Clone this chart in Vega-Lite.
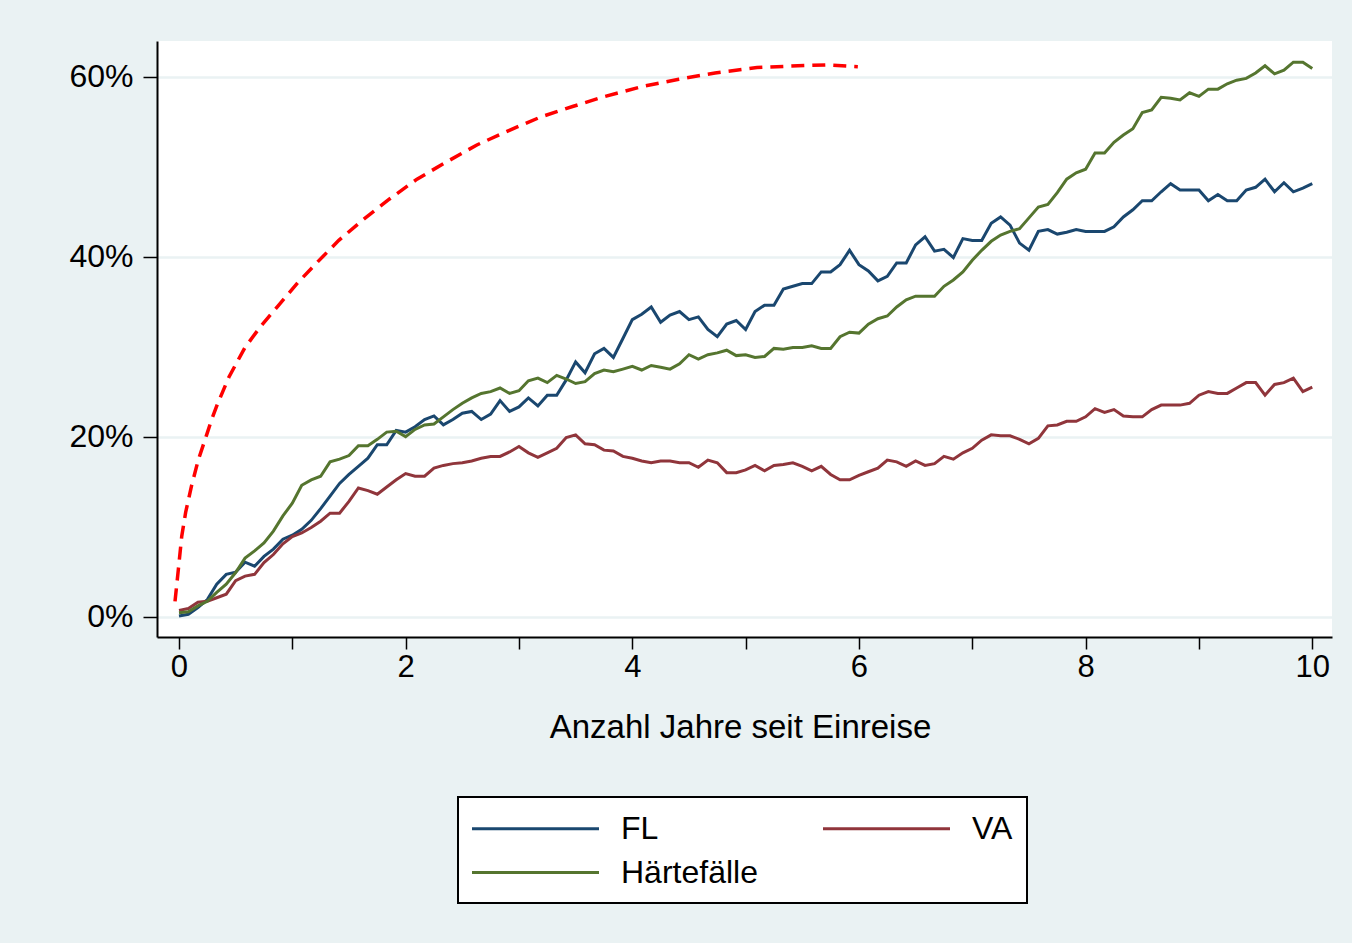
{
  "$schema": "https://vega.github.io/schema/vega-lite/v6.json",
  "width": 1175,
  "height": 596,
  "autosize": {"type": "none"},
  "padding": {"left": 157, "top": 41, "right": 20, "bottom": 306},
  "background": "#EAF2F3",
  "config": {"view": {"fill": "white", "stroke": null}, "font": "Liberation Sans"},
  "datasets": {
    "series": [
      {"t":0,"FL":0.07,"VA":0.7,"Härtefälle":0.44},
      {"t":0.083,"FL":0.26,"VA":0.9,"Härtefälle":0.55},
      {"t":0.167,"FL":1.0,"VA":1.6,"Härtefälle":1.2},
      {"t":0.25,"FL":1.9,"VA":1.7,"Härtefälle":1.7},
      {"t":0.333,"FL":3.6,"VA":2.1,"Härtefälle":2.7},
      {"t":0.417,"FL":4.7,"VA":2.5,"Härtefälle":3.6},
      {"t":0.5,"FL":4.95,"VA":4.0,"Härtefälle":4.9},
      {"t":0.583,"FL":6.05,"VA":4.5,"Härtefälle":6.5},
      {"t":0.667,"FL":5.6,"VA":4.7,"Härtefälle":7.3},
      {"t":0.75,"FL":6.7,"VA":6.0,"Härtefälle":8.2},
      {"t":0.833,"FL":7.5,"VA":6.9,"Härtefälle":9.5},
      {"t":0.917,"FL":8.6,"VA":8.1,"Härtefälle":11.2},
      {"t":1,"FL":9.05,"VA":8.9,"Härtefälle":12.6},
      {"t":1.083,"FL":9.7,"VA":9.3,"Härtefälle":14.6},
      {"t":1.167,"FL":10.7,"VA":9.9,"Härtefälle":15.2},
      {"t":1.25,"FL":12.0,"VA":10.6,"Härtefälle":15.6},
      {"t":1.333,"FL":13.4,"VA":11.5,"Härtefälle":17.2},
      {"t":1.417,"FL":14.8,"VA":11.5,"Härtefälle":17.5},
      {"t":1.5,"FL":15.8,"VA":12.8,"Härtefälle":17.9},
      {"t":1.583,"FL":16.7,"VA":14.3,"Härtefälle":19.0},
      {"t":1.667,"FL":17.6,"VA":14.0,"Härtefälle":19.0},
      {"t":1.75,"FL":19.1,"VA":13.6,"Härtefälle":19.7},
      {"t":1.833,"FL":19.1,"VA":14.4,"Härtefälle":20.5},
      {"t":1.917,"FL":20.7,"VA":15.2,"Härtefälle":20.6},
      {"t":2,"FL":20.5,"VA":15.9,"Härtefälle":20.0},
      {"t":2.083,"FL":21.1,"VA":15.6,"Härtefälle":20.8},
      {"t":2.167,"FL":21.9,"VA":15.6,"Härtefälle":21.3},
      {"t":2.25,"FL":22.3,"VA":16.5,"Härtefälle":21.4},
      {"t":2.333,"FL":21.3,"VA":16.8,"Härtefälle":22.2},
      {"t":2.417,"FL":21.9,"VA":17.0,"Härtefälle":23.0},
      {"t":2.5,"FL":22.6,"VA":17.1,"Härtefälle":23.7},
      {"t":2.583,"FL":22.8,"VA":17.3,"Härtefälle":24.3},
      {"t":2.667,"FL":21.9,"VA":17.6,"Härtefälle":24.8},
      {"t":2.75,"FL":22.5,"VA":17.8,"Härtefälle":25.0},
      {"t":2.833,"FL":24.0,"VA":17.8,"Härtefälle":25.4},
      {"t":2.917,"FL":22.8,"VA":18.3,"Härtefälle":24.8},
      {"t":3,"FL":23.3,"VA":18.9,"Härtefälle":25.1},
      {"t":3.083,"FL":24.3,"VA":18.2,"Härtefälle":26.2},
      {"t":3.167,"FL":23.4,"VA":17.7,"Härtefälle":26.5},
      {"t":3.25,"FL":24.6,"VA":18.2,"Härtefälle":26.0},
      {"t":3.333,"FL":24.6,"VA":18.7,"Härtefälle":26.8},
      {"t":3.417,"FL":26.3,"VA":19.9,"Härtefälle":26.4},
      {"t":3.5,"FL":28.3,"VA":20.2,"Härtefälle":25.9},
      {"t":3.583,"FL":27.1,"VA":19.2,"Härtefälle":26.1},
      {"t":3.667,"FL":29.2,"VA":19.1,"Härtefälle":27.0},
      {"t":3.75,"FL":29.8,"VA":18.5,"Härtefälle":27.4},
      {"t":3.833,"FL":28.8,"VA":18.4,"Härtefälle":27.2},
      {"t":3.917,"FL":30.9,"VA":17.8,"Härtefälle":27.5},
      {"t":4,"FL":33.0,"VA":17.6,"Härtefälle":27.8},
      {"t":4.083,"FL":33.6,"VA":17.3,"Härtefälle":27.4},
      {"t":4.167,"FL":34.4,"VA":17.1,"Härtefälle":27.9},
      {"t":4.25,"FL":32.7,"VA":17.3,"Härtefälle":27.7},
      {"t":4.333,"FL":33.5,"VA":17.3,"Härtefälle":27.5},
      {"t":4.417,"FL":33.9,"VA":17.1,"Härtefälle":28.1},
      {"t":4.5,"FL":33.0,"VA":17.1,"Härtefälle":29.1},
      {"t":4.583,"FL":33.3,"VA":16.6,"Härtefälle":28.6},
      {"t":4.667,"FL":31.9,"VA":17.4,"Härtefälle":29.1},
      {"t":4.75,"FL":31.1,"VA":17.1,"Härtefälle":29.3},
      {"t":4.833,"FL":32.5,"VA":16.0,"Härtefälle":29.6},
      {"t":4.917,"FL":32.9,"VA":16.0,"Härtefälle":29.0},
      {"t":5,"FL":31.9,"VA":16.3,"Härtefälle":29.1},
      {"t":5.083,"FL":33.9,"VA":16.8,"Härtefälle":28.8},
      {"t":5.167,"FL":34.6,"VA":16.2,"Härtefälle":28.9},
      {"t":5.25,"FL":34.6,"VA":16.8,"Härtefälle":29.8},
      {"t":5.333,"FL":36.4,"VA":16.9,"Härtefälle":29.7},
      {"t":5.417,"FL":36.7,"VA":17.1,"Härtefälle":29.9},
      {"t":5.5,"FL":37.0,"VA":16.7,"Härtefälle":29.9},
      {"t":5.583,"FL":37.0,"VA":16.2,"Härtefälle":30.1},
      {"t":5.667,"FL":38.3,"VA":16.7,"Härtefälle":29.8},
      {"t":5.75,"FL":38.3,"VA":15.8,"Härtefälle":29.8},
      {"t":5.833,"FL":39.1,"VA":15.2,"Härtefälle":31.1},
      {"t":5.917,"FL":40.7,"VA":15.2,"Härtefälle":31.6},
      {"t":6,"FL":39.1,"VA":15.7,"Härtefälle":31.5},
      {"t":6.083,"FL":38.4,"VA":16.1,"Härtefälle":32.5},
      {"t":6.167,"FL":37.3,"VA":16.5,"Härtefälle":33.1},
      {"t":6.25,"FL":37.8,"VA":17.4,"Härtefälle":33.4},
      {"t":6.333,"FL":39.3,"VA":17.2,"Härtefälle":34.4},
      {"t":6.417,"FL":39.3,"VA":16.7,"Härtefälle":35.2},
      {"t":6.5,"FL":41.3,"VA":17.3,"Härtefälle":35.6},
      {"t":6.583,"FL":42.2,"VA":16.8,"Härtefälle":35.6},
      {"t":6.667,"FL":40.6,"VA":17.0,"Härtefälle":35.6},
      {"t":6.75,"FL":40.8,"VA":17.8,"Härtefälle":36.7},
      {"t":6.833,"FL":39.9,"VA":17.5,"Härtefälle":37.4},
      {"t":6.917,"FL":42.0,"VA":18.2,"Härtefälle":38.3},
      {"t":7,"FL":41.8,"VA":18.7,"Härtefälle":39.6},
      {"t":7.083,"FL":41.8,"VA":19.6,"Härtefälle":40.7},
      {"t":7.167,"FL":43.7,"VA":20.2,"Härtefälle":41.7},
      {"t":7.25,"FL":44.4,"VA":20.1,"Härtefälle":42.4},
      {"t":7.333,"FL":43.5,"VA":20.1,"Härtefälle":42.8},
      {"t":7.417,"FL":41.5,"VA":19.7,"Härtefälle":43.1},
      {"t":7.5,"FL":40.7,"VA":19.2,"Härtefälle":44.3},
      {"t":7.583,"FL":42.8,"VA":19.8,"Härtefälle":45.5},
      {"t":7.667,"FL":43.0,"VA":21.2,"Härtefälle":45.8},
      {"t":7.75,"FL":42.5,"VA":21.3,"Härtefälle":47.1},
      {"t":7.833,"FL":42.7,"VA":21.7,"Härtefälle":48.6},
      {"t":7.917,"FL":43.0,"VA":21.7,"Härtefälle":49.3},
      {"t":8,"FL":42.8,"VA":22.2,"Härtefälle":49.7},
      {"t":8.083,"FL":42.8,"VA":23.1,"Härtefälle":51.5},
      {"t":8.167,"FL":42.8,"VA":22.7,"Härtefälle":51.5},
      {"t":8.25,"FL":43.3,"VA":23.0,"Härtefälle":52.7},
      {"t":8.333,"FL":44.4,"VA":22.3,"Härtefälle":53.5},
      {"t":8.417,"FL":45.2,"VA":22.2,"Härtefälle":54.2},
      {"t":8.5,"FL":46.2,"VA":22.2,"Härtefälle":56.0},
      {"t":8.583,"FL":46.2,"VA":23.0,"Härtefälle":56.3},
      {"t":8.667,"FL":47.2,"VA":23.5,"Härtefälle":57.7},
      {"t":8.75,"FL":48.1,"VA":23.5,"Härtefälle":57.6},
      {"t":8.833,"FL":47.4,"VA":23.5,"Härtefälle":57.4},
      {"t":8.917,"FL":47.4,"VA":23.7,"Härtefälle":58.2},
      {"t":9,"FL":47.4,"VA":24.6,"Härtefälle":57.8},
      {"t":9.083,"FL":46.2,"VA":25.0,"Härtefälle":58.6},
      {"t":9.167,"FL":46.9,"VA":24.8,"Härtefälle":58.6},
      {"t":9.25,"FL":46.2,"VA":24.8,"Härtefälle":59.2},
      {"t":9.333,"FL":46.2,"VA":25.4,"Härtefälle":59.6},
      {"t":9.417,"FL":47.4,"VA":26.0,"Härtefälle":59.8},
      {"t":9.5,"FL":47.7,"VA":26.0,"Härtefälle":60.4},
      {"t":9.583,"FL":48.6,"VA":24.6,"Härtefälle":61.2},
      {"t":9.667,"FL":47.2,"VA":25.8,"Härtefälle":60.3},
      {"t":9.75,"FL":48.2,"VA":26.0,"Härtefälle":60.7},
      {"t":9.833,"FL":47.2,"VA":26.5,"Härtefälle":61.6},
      {"t":9.917,"FL":47.6,"VA":25.0,"Härtefälle":61.6},
      {"t":10,"FL":48.1,"VA":25.5,"Härtefälle":60.9}
    ],
    "curve": [
      {"t":-0.035,"value":1.7},
      {"t":-0.006,"value":5.2},
      {"t":0.024,"value":8.9},
      {"t":0.059,"value":11.6},
      {"t":0.112,"value":14.6},
      {"t":0.17,"value":17.4},
      {"t":0.244,"value":20.2},
      {"t":0.288,"value":21.9},
      {"t":0.339,"value":23.6},
      {"t":0.44,"value":26.6},
      {"t":0.582,"value":29.9},
      {"t":0.724,"value":32.3},
      {"t":0.886,"value":34.7},
      {"t":1.048,"value":37.1},
      {"t":1.23,"value":39.5},
      {"t":1.41,"value":41.8},
      {"t":1.615,"value":44.0},
      {"t":1.858,"value":46.4},
      {"t":2.1,"value":48.6},
      {"t":2.345,"value":50.4},
      {"t":2.628,"value":52.4},
      {"t":2.91,"value":54.0},
      {"t":3.19,"value":55.5},
      {"t":3.48,"value":56.7},
      {"t":3.76,"value":57.8},
      {"t":4.09,"value":58.9},
      {"t":4.41,"value":59.7},
      {"t":4.73,"value":60.4},
      {"t":5.1,"value":61.0},
      {"t":5.46,"value":61.2},
      {"t":5.71,"value":61.3},
      {"t":5.99,"value":61.1}
    ]
  },
  "encoding": {
    "x": {
      "field": "t",
      "type": "quantitative",
      "scale": {"domain": [-0.194, 10.174], "nice": false, "zero": false},
      "axis": {
        "title": "Anzahl Jahre seit Einreise",
        "values": [0, 1, 2, 3, 4, 5, 6, 7, 8, 9, 10],
        "labelExpr": "datum.value % 2 === 0 ? datum.label : ''",
        "grid": false,
        "domainColor": "black",
        "domainWidth": 2,
        "tickColor": "black",
        "tickWidth": 1.5,
        "tickSize": 12,
        "labelFontSize": 31,
        "labelColor": "black",
        "labelPadding": 3,
        "labelFlush": false,
        "labelOverlap": false,
        "titleFontSize": 33,
        "titleFontWeight": "normal",
        "titleColor": "black",
        "titlePadding": 29,
        "titleX": 583,
        "titleAlign": "center"
      }
    },
    "y": {
      "field": "value",
      "type": "quantitative",
      "scale": {"domain": [-2.26, 63.95], "nice": false, "zero": false},
      "axis": {
        "title": null,
        "values": [0, 20, 40, 60],
        "labelExpr": "datum.value + '%'",
        "grid": true,
        "gridColor": "#EAF2F3",
        "gridWidth": 2.5,
        "domainColor": "black",
        "domainWidth": 2,
        "tickColor": "black",
        "tickWidth": 1.5,
        "tickSize": 14,
        "labelFontSize": 32,
        "labelColor": "black",
        "labelPadding": 10
      }
    }
  },
  "layer": [
    {
      "data": {"name": "series"},
      "transform": [{"fold": ["FL", "VA", "Härtefälle"], "as": ["series", "value"]}],
      "mark": {"type": "line", "strokeWidth": 3},
      "encoding": {
        "color": {
          "field": "series",
          "type": "nominal",
          "scale": {"domain": ["FL", "VA", "Härtefälle"], "range": ["#1A476F", "#90353B", "#55752F"]},
          "legend": {
            "title": null,
            "orient": "none",
            "direction": "horizontal",
            "legendX": 301,
            "legendY": 756,
            "columns": 2,
            "symbolType": "M-4,0H4",
            "symbolSize": 1008,
            "symbolStrokeWidth": 3,
            "symbolOffset": 46,
            "labelOffset": 68,
            "labelFontSize": 32,
            "labelColor": "black",
            "labelLimit": 0,
            "columnPadding": 59,
            "rowPadding": 10,
            "padding": 14,
            "strokeColor": "black",
            "fillColor": "white",
            "encode": {"legend": {"update": {"strokeWidth": {"value": 2}}}}
          }
        }
      }
    },
    {
      "data": {"name": "curve"},
      "mark": {"type": "line", "color": "#FF0000", "strokeWidth": 3.5, "strokeDash": [13, 8]}
    }
  ]
}
